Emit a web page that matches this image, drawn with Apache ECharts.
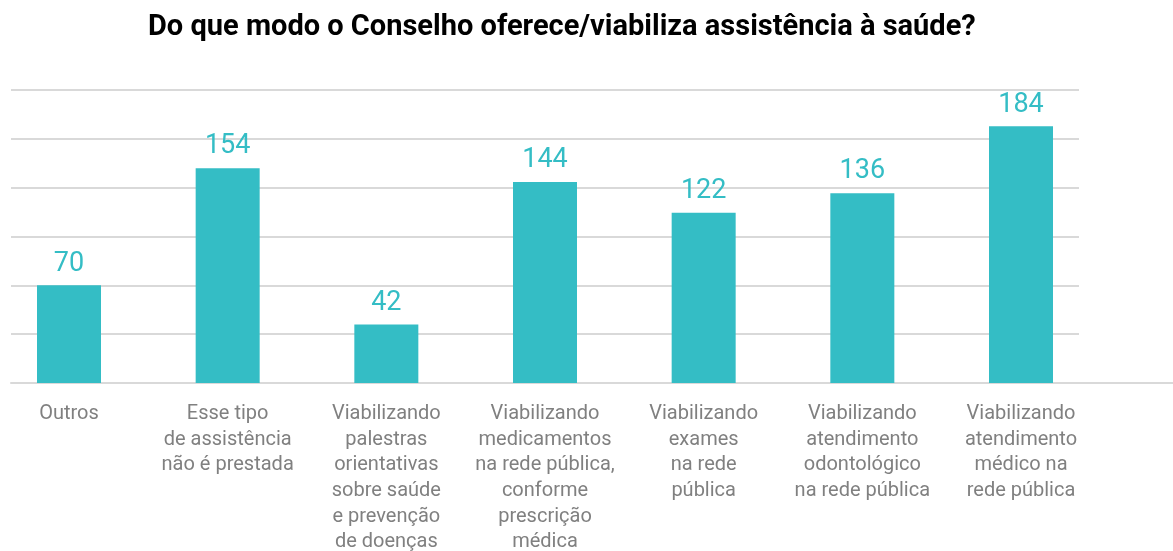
<!DOCTYPE html>
<html>
<head>
<meta charset="utf-8">
<script src="https://cdn.jsdelivr.net/npm/echarts@6/dist/echarts.min.js"></script>
<style>
  html, body { margin: 0; padding: 0; background: #fff; }
  #chart { width: 1173px; height: 551px; }
</style>
</head>
<body>
<div id="chart"></div>
<script>
// Forms of health assistance offered by the Council (number of responses)
const categories = [
  'Outros',
  'Esse tipo\nde assistência\nnão é prestada',
  'Viabilizando\npalestras\norientativas\nsobre saúde\ne prevenção\nde doenças',
  'Viabilizando\nmedicamentos\nna rede pública,\nconforme\nprescrição\nmédica',
  'Viabilizando\nexames\nna rede\npública',
  'Viabilizando\natendimento\nodontológico\nna rede pública',
  'Viabilizando\natendimento\nmédico na\nrede pública'
];
const values = [70, 154, 42, 144, 122, 136, 184];

const titleText = 'Do que modo o Conselho oferece/viabiliza assistência à saúde?';
const valueMin = 0;
const valueMax = 210;
const valueStep = 35;

const teal = '#34bdc5';
const gridColor = '#d9d9d9';
const font = 'Roboto, "Noto Sans", sans-serif';

const chart = echarts.init(document.getElementById('chart'), null, { renderer: 'canvas' });

const plotTop = 90;
const plotBottom = 168;

chart.setOption({
  backgroundColor: '#ffffff',
  animation: false,
  title: {
    text: titleText,
    left: 143,
    top: 8,
    textStyle: { fontFamily: font, fontSize: 29, fontWeight: 'bold', color: '#000000' }
  },
  grid: [
    // horizontal guide lines
    { left: 11, right: 94, top: plotTop, bottom: plotBottom, outerBoundsMode: 'none', containLabel: false },
    // bars and category labels (first and last category sit on the grid edges)
    { left: 69, width: 952, top: plotTop, bottom: plotBottom, outerBoundsMode: 'none', containLabel: false },
    // baseline running to the right edge
    { left: 11, right: 0, top: plotTop, bottom: plotBottom, outerBoundsMode: 'none', containLabel: false }
  ],
  xAxis: [
    { gridIndex: 0, type: 'category', data: categories, show: false },
    {
      gridIndex: 1, type: 'category', data: categories, boundaryGap: false,
      axisLine: { show: false }, axisTick: { show: false },
      axisLabel: {
        interval: 0, margin: 18, color: '#808080',
        fontFamily: font, fontSize: 20, lineHeight: 25.7, align: 'center'
      }
    },
    {
      gridIndex: 2, type: 'category', data: categories,
      axisLine: { show: true, lineStyle: { color: gridColor, width: 2 } },
      axisTick: { show: false }, axisLabel: { show: false }
    }
  ],
  yAxis: [
    {
      gridIndex: 0, type: 'value', min: valueMin, max: valueMax, interval: valueStep,
      axisLine: { show: false }, axisTick: { show: false }, axisLabel: { show: false },
      splitLine: { show: true, lineStyle: { color: gridColor, width: 2 } }
    },
    {
      gridIndex: 1, type: 'value', min: valueMin, max: valueMax, interval: valueStep,
      show: false, splitLine: { show: false }
    },
    {
      gridIndex: 2, type: 'value', min: valueMin, max: valueMax, interval: valueStep,
      show: false, splitLine: { show: false }
    }
  ],
  series: [
    {
      type: 'bar',
      xAxisIndex: 1,
      yAxisIndex: 1,
      data: values,
      barWidth: 64,
      itemStyle: { color: teal },
      z: 3,
      label: {
        show: true,
        position: 'top',
        distance: 8,
        color: teal,
        fontFamily: font,
        fontSize: 27
      }
    }
  ]
});
</script>
</body>
</html>
